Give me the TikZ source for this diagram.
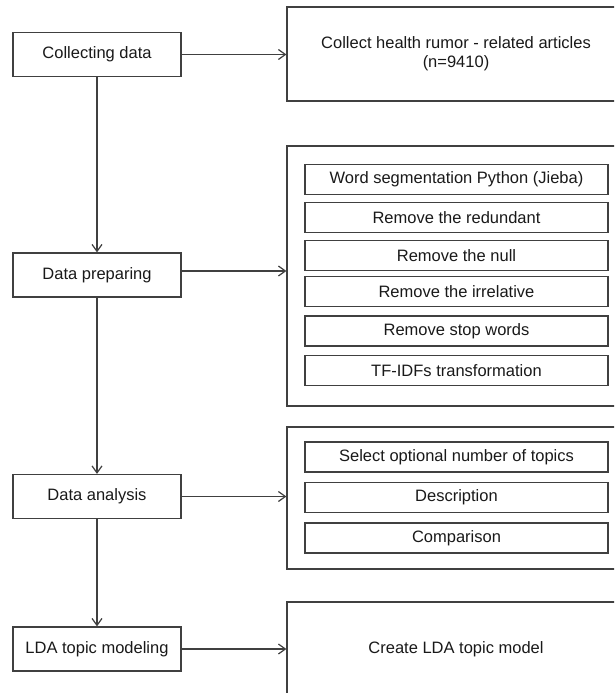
\documentclass[tikz,border=0pt]{standalone}
\usepackage{fontspec}
\setmainfont{Liberation Sans}
\usetikzlibrary{arrows.meta}
\begin{document}
\begin{tikzpicture}[x=1pt, y=-1pt,
  every node/.style={font=\fontsize{16.5}{19}\selectfont, text=black!90, inner sep=0pt},
  stage/.style={draw=black!75, line width=1.2pt, minimum width=168pt, minimum height=44pt},
  panel/.style={draw=black!75, line width=1.2pt, minimum width=338pt, align=center},
  item/.style={draw=black!75, line width=1.2pt, minimum width=303pt, minimum height=30pt},
  flow/.style={draw=black!75, line width=1.2pt, -{Straight Barb[length=7pt, width=10pt]}}
]
% page frame; the panels run past its right and bottom edges
\clip (0,0) rectangle (614,693);

% process stages (left column)
\node[stage] (collect) at (97,54.5)  {Collecting data};
\node[stage] (prep)    at (97,275)   {Data preparing};
\node[stage] (analys)  at (97,496.5) {Data analysis};
\node[stage] (lda)     at (97,649)   {LDA topic modeling};

% detail panels (right column)
\node[panel, minimum height=94pt]  (p1) at (456,54)  {Collect health rumor - related articles\\(n=9410)};
\node[panel, minimum height=260pt] (p2) at (456,276) {};
\node[panel, minimum height=142pt] (p3) at (456,498) {};
\node[panel, minimum height=94pt]  (p4) at (456,649) {Create LDA topic model};

% preprocessing steps
\node[item] (s1) at (456.5,179.5) {Word segmentation Python (Jieba)};
\node[item] (s2) at (456.5,217.5) {Remove the redundant};
\node[item] (s3) at (456.5,255.5) {Remove the null};
\node[item] (s4) at (456.5,291.5) {Remove the irrelative};
\node[item] (s5) at (456.5,331)   {Remove stop words};
\node[item] (s6) at (456.5,370.5) {TF-IDFs transformation};

% analysis steps
\node[item] (a1) at (456.5,457)   {Select optional number of topics};
\node[item] (a2) at (456.5,497.5) {Description};
\node[item] (a3) at (456.5,538)   {Comparison};

% main flow
\draw[flow] (collect) -- (prep);
\draw[flow] (prep) -- (analys);
\draw[flow] (analys) -- (lda);

% links to the detail panels
\draw[flow] (collect.east) -- (collect.east -| p1.west);
\draw[flow] ([yshift=4pt]prep.east) -- ([yshift=4pt]prep.east -| p2.west);
\draw[flow] (analys.east) -- (analys.east -| p3.west);
\draw[flow] (lda.east) -- (lda.east -| p4.west);
\end{tikzpicture}
\end{document}
